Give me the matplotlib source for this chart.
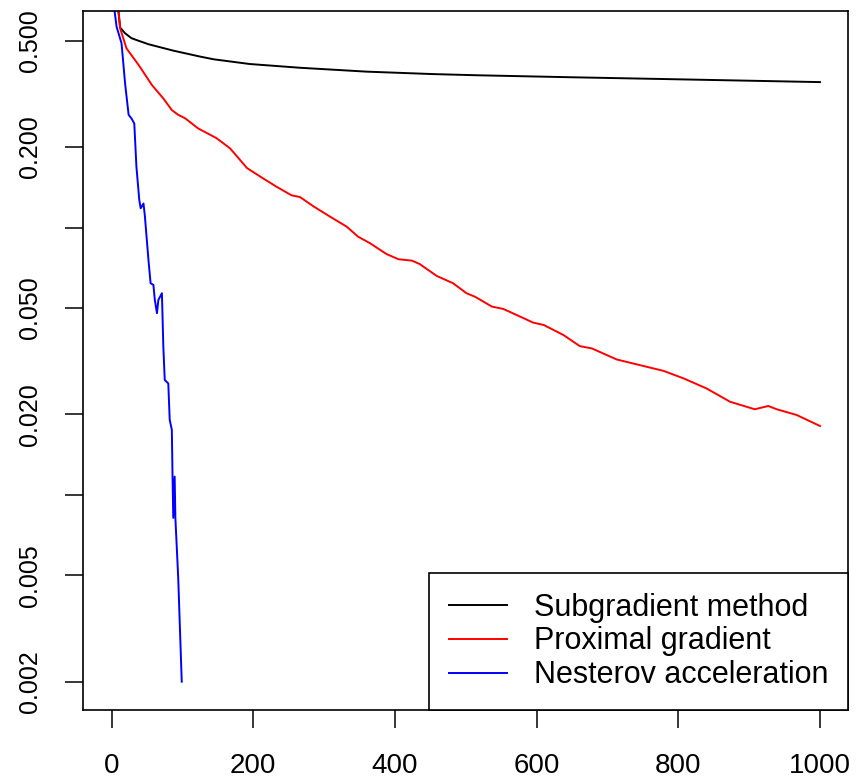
import matplotlib
matplotlib.use("Agg")
import matplotlib.pyplot as plt

plt.rcParams['font.family'] = ['Liberation Sans', 'DejaVu Sans']

# ---- data ----
sub_x = [1, 12, 19, 28, 35, 52, 87, 125, 144, 195, 266, 360, 454, 520, 647, 788, 1000]
sub_y = [1.1, 0.56, 0.533, 0.511, 0.503, 0.485, 0.459, 0.436, 0.426, 0.409, 0.396,
         0.383, 0.375, 0.371, 0.365, 0.359, 0.350]

prox_x = [1, 12, 21, 38, 57, 73, 85, 94, 104, 122, 148, 167, 179, 191, 210, 233, 254,
          266, 285, 308, 332, 348, 365, 388, 405, 424, 435, 459, 482, 501, 513, 537,
          553, 577, 595, 610, 638, 661, 678, 713, 732, 779, 807, 840, 873, 908, 927,
          939, 967, 1000]
prox_y = [1.1, 0.556, 0.468, 0.406, 0.341, 0.304, 0.275, 0.264, 0.256, 0.235, 0.216,
          0.198, 0.182, 0.167, 0.155, 0.142, 0.132, 0.130, 0.120, 0.110, 0.1007,
          0.0924, 0.0873, 0.0796, 0.0761, 0.0752, 0.0730, 0.0659, 0.0619, 0.0568,
          0.0551, 0.0506, 0.0496, 0.0464, 0.0441, 0.0432, 0.0396, 0.0360, 0.0353,
          0.0321, 0.0312, 0.0291, 0.0273, 0.0250, 0.0223, 0.0209, 0.0215, 0.0209,
          0.0199, 0.0181]

nest_x = [1, 7, 14, 19, 24, 28, 32, 35, 39, 41, 45, 47, 52, 55, 59, 61, 64, 66, 71,
          73, 75, 80, 82, 85, 86, 87, 89, 90, 94, 99]
nest_y = [0.75, 0.564, 0.489, 0.346, 0.264, 0.256, 0.245, 0.169, 0.127, 0.118, 0.123,
          0.110, 0.0756, 0.0619, 0.0610, 0.0536, 0.0478, 0.0536, 0.0568, 0.0358,
          0.0269, 0.0261, 0.0191, 0.0175, 0.0117, 0.0082, 0.0117, 0.0082, 0.0049,
          0.002]

series_names = ["Subgradient method", "Proximal gradient", "Nesterov acceleration"]
series_colors = ["black", "#FF0000", "#0000FF"]

y_ticks = [0.5, 0.2, 0.1, 0.05, 0.02, 0.01, 0.005, 0.002]
y_tick_labels = ["0.500", "0.200", "", "0.050", "0.020", "", "0.005", "0.002"]
x_ticks = [0, 200, 400, 600, 800, 1000]
x_tick_labels = ["0", "200", "400", "600", "800", "1000"]

# ---- figure ----
fig = plt.figure(figsize=(8.56, 7.78), dpi=100)
ax = fig.add_axes([0.0973, 0.0870, 0.8937, 0.8992])

for xs, ys, name, col in zip([sub_x, prox_x, nest_x], [sub_y, prox_y, nest_y],
                             series_names, series_colors):
    ax.plot(xs, ys, color=col, linewidth=1.4, label=name)

ax.set_yscale('log')
ax.set_xlim(-40, 1040)
ax.set_ylim(0.001563, 0.6472)

ax.set_xticks(x_ticks)
ax.set_xticklabels(x_tick_labels)
ax.set_yticks(y_ticks)
ax.set_yticklabels(y_tick_labels)
ax.minorticks_off()

ax.tick_params(axis='both', direction='out', length=13, width=1.1, color='black')
ax.tick_params(axis='x', labelsize=20, pad=17.5)
ax.tick_params(axis='y', labelsize=18, pad=17)
for lbl in ax.get_yticklabels():
    lbl.set_rotation(90)
    lbl.set_va('center')

for sp in ax.spines.values():
    sp.set_linewidth(1.2)
    sp.set_color('black')

leg = ax.legend(loc='lower right', bbox_to_anchor=(1, 0), borderaxespad=0,
                fancybox=False, edgecolor='black', framealpha=1, fontsize=22,
                handlelength=1.9, handletextpad=0.88, borderpad=0.65,
                labelspacing=0.13)
leg.get_frame().set_linewidth(1.2)

fig.savefig("out.png", dpi=100)
